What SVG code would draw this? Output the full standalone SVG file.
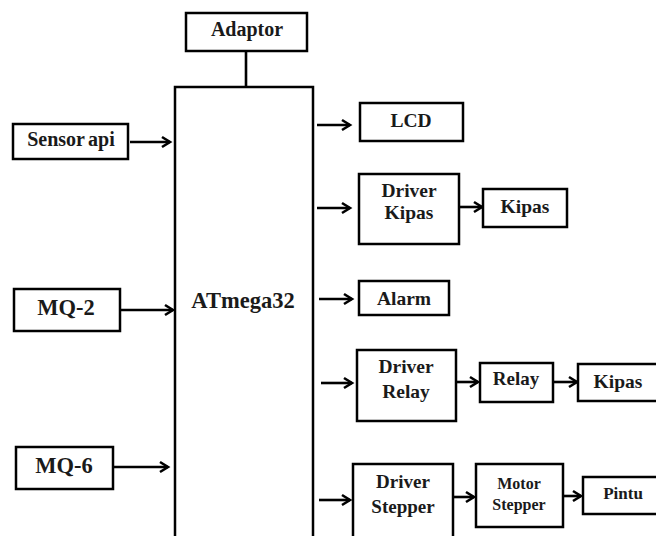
<svg xmlns="http://www.w3.org/2000/svg" width="656" height="536" viewBox="0 0 656 536">
<style>
.box{fill:#fff;stroke:#000;stroke-width:2.5}
.t{font-family:'Liberation Serif','Times New Roman','DejaVu Serif',serif;font-weight:700;fill:#1a1a1a;text-anchor:middle}
.c{stroke:#000;stroke-width:2.6;fill:none}
</style>
<defs>
<marker id="ah" markerUnits="userSpaceOnUse" markerWidth="14" markerHeight="14" refX="10" refY="7" orient="auto">
<path d="M2,2 L10,7 L2,12" fill="none" stroke="#000" stroke-width="2.6" stroke-linejoin="miter"/>
</marker>
</defs>
<rect width="656" height="536" fill="#fff"/>
<g id="connectors">
<line class="c" x1="246" y1="51" x2="246" y2="87"/>
<line class="c" x1="130" y1="142" x2="170" y2="142" marker-end="url(#ah)"/>
<line class="c" x1="120" y1="310" x2="173" y2="310" marker-end="url(#ah)"/>
<line class="c" x1="113" y1="467" x2="168" y2="467" marker-end="url(#ah)"/>
<line class="c" x1="317" y1="125" x2="350" y2="125" marker-end="url(#ah)"/>
<line class="c" x1="317" y1="208" x2="350" y2="208" marker-end="url(#ah)"/>
<line class="c" x1="319" y1="299" x2="352" y2="299" marker-end="url(#ah)"/>
<line class="c" x1="321" y1="383" x2="352" y2="383" marker-end="url(#ah)"/>
<line class="c" x1="319" y1="500" x2="350" y2="500" marker-end="url(#ah)"/>
<line class="c" x1="459" y1="207" x2="482" y2="207" marker-end="url(#ah)"/>
<line class="c" x1="456" y1="382" x2="478" y2="382" marker-end="url(#ah)"/>
<line class="c" x1="553" y1="382" x2="577" y2="382" marker-end="url(#ah)"/>
<line class="c" x1="453" y1="497" x2="474" y2="497" marker-end="url(#ah)"/>
<line class="c" x1="563" y1="496" x2="581" y2="496" marker-end="url(#ah)"/>
</g>
<g id="adaptor"><rect class="box" x="186" y="13" width="121" height="38"/><text class="t" x="247" y="36" font-size="20">Adaptor</text></g>
<g id="atmega32"><rect class="box" x="175" y="87" width="138" height="460"/><text class="t" x="243" y="308" font-size="22.5">ATmega32</text></g>
<g id="sensor-api"><rect class="box" x="13" y="124" width="115" height="35"/><text class="t" x="71" y="146" font-size="20" word-spacing="-1.5">Sensor api</text></g>
<g id="mq2"><rect class="box" x="14" y="289" width="106" height="42"/><text class="t" x="66" y="315" font-size="22.5">MQ-2</text></g>
<g id="mq6"><rect class="box" x="16" y="447" width="97" height="42"/><text class="t" x="64" y="473" font-size="22.5">MQ-6</text></g>
<g id="lcd"><rect class="box" x="360" y="103" width="103" height="38"/><text class="t" x="411" y="127" font-size="19.5">LCD</text></g>
<g id="driver-kipas"><rect class="box" x="359" y="174" width="100" height="70"/><text class="t" x="409" y="197" font-size="19.5">Driver</text><text class="t" x="409" y="219" font-size="19.5">Kipas</text></g>
<g id="kipas1"><rect class="box" x="483" y="189" width="84" height="38"/><text class="t" x="525" y="213" font-size="19.5">Kipas</text></g>
<g id="alarm"><rect class="box" x="359" y="281" width="90" height="34"/><text class="t" x="404" y="305" font-size="19.5">Alarm</text></g>
<g id="driver-relay"><rect class="box" x="357" y="350" width="99" height="71"/><text class="t" x="406" y="373" font-size="19.5">Driver</text><text class="t" x="406" y="398" font-size="19.5">Relay</text></g>
<g id="relay"><rect class="box" x="480" y="363" width="73" height="39"/><text class="t" x="516" y="385" font-size="19">Relay</text></g>
<g id="kipas2"><rect class="box" x="578" y="364" width="90" height="37"/><text class="t" x="618" y="388" font-size="19.5">Kipas</text></g>
<g id="driver-stepper"><rect class="box" x="353" y="464" width="100" height="80"/><text class="t" x="403" y="488" font-size="19">Driver</text><text class="t" x="403" y="513" font-size="19">Stepper</text></g>
<g id="motor-stepper"><rect class="box" x="476" y="464" width="87" height="63"/><text class="t" x="519" y="489" font-size="16">Motor</text><text class="t" x="519" y="510" font-size="16">Stepper</text></g>
<g id="pintu"><rect class="box" x="583" y="477" width="90" height="37"/><text class="t" x="623" y="499" font-size="17">Pintu</text></g>
</svg>
